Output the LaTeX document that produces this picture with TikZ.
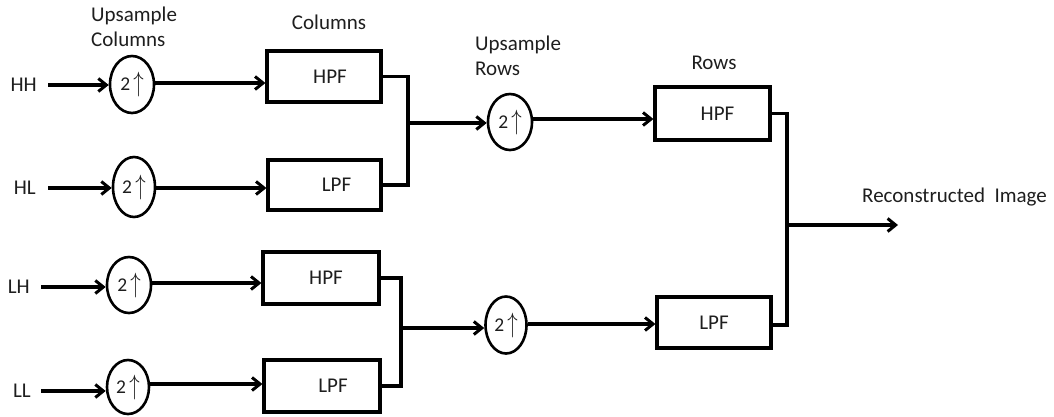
\documentclass[tikz,border=0pt]{standalone}
\usepackage{fontspec}
\setmainfont{Carlito}
\usetikzlibrary{arrows.meta,shapes.geometric}
\definecolor{ink}{RGB}{30,30,30}
\newcommand{\upby}{2\,\raisebox{-1pt}{\scalebox{1}[1.35]{$\uparrow$}}}
\tikzset{
  wire/.style={line width=3.2pt},
  arr/.style={wire,-{Straight Barb[length=8pt,width=13pt,line width=3pt]}},
  ups/.style={draw,ellipse,line width=2.6pt,inner sep=0pt,font=\fontsize{19.5}{20}\selectfont,text=ink},
  filt/.style={draw,rectangle,line width=3.2pt,inner sep=0pt,font=\fontsize{21}{24}\selectfont,text=ink},
  lbl/.style={inner sep=0pt,font=\fontsize{21}{25}\selectfont,text=ink,align=left},
}
\begin{document}
\begin{tikzpicture}[x=1pt,y=-1pt]
\useasboundingbox (0,0) rectangle (1054,416);

% headings
\node[lbl,anchor=west] (hupc) at (91,27) {Upsample\\Columns};
\node[lbl] (hcol) at (329,22) {Columns};
\node[lbl,anchor=west] (hupr) at (475,56) {Upsample\\Rows};
\node[lbl] (hrow) at (714,63) {Rows};

% subband inputs
\node[lbl,anchor=east] (hh) at (37,85) {HH};
\node[lbl,anchor=east] (hl) at (36,188) {HL};
\node[lbl,anchor=east] (lh) at (30,287) {LH};
\node[lbl,anchor=east] (ll) at (31,391) {LL};

% column upsamplers
\node[ups,minimum width=44pt,minimum height=57pt] (u1) at (132,84.5) {\upby};
\node[ups,minimum width=42pt,minimum height=60pt] (u2) at (134,187) {\upby};
\node[ups,minimum width=44pt,minimum height=56pt] (u5) at (129,285) {\upby};
\node[ups,minimum width=42pt,minimum height=54pt] (u6) at (128,387) {\upby};

% column filters
\node[filt,minimum width=114pt,minimum height=51pt] (c1) at (324,76.5) {\hspace*{12pt}HPF};
\node[filt,minimum width=113pt,minimum height=50pt] (c2) at (324.5,185) {\hspace*{24pt}LPF};
\node[filt,minimum width=116pt,minimum height=52pt] (c3) at (321,278) {\hspace*{10pt}HPF};
\node[filt,minimum width=116pt,minimum height=52pt] (c4) at (322,386) {\hspace*{22pt}LPF};

% row upsamplers
\node[ups,minimum width=44pt,minimum height=56pt] (u3) at (510,122) {\upby};
\node[ups,minimum width=41pt,minimum height=57pt] (u4) at (506,325) {\upby};

% row filters
\node[filt,minimum width=115pt,minimum height=53pt] (r1) at (712.5,113.5) {\hspace*{10pt}HPF};
\node[filt,minimum width=114pt,minimum height=51pt] (r2) at (714,322.5) {LPF};

\node[lbl,anchor=west] (out) at (862,197) {Reconstructed\ \ Image};

% junction points
\coordinate (j1) at (408,123);
\coordinate (j2) at (401,328);
\coordinate (j3) at (787,225);
\coordinate (o) at (898,225);

% inputs into column upsamplers
\draw[arr] ([xshift=11pt]hh.east) -- (hh.east -| u1.west);
\draw[arr] ([xshift=12pt]hl.east) -- (hl.east -| u2.west);
\draw[arr] ([xshift=11pt]lh.east) -- (lh.east -| u5.west);
\draw[arr] ([xshift=10pt]ll.east) -- (ll.east -| u6.west);

% upsamplers into column filters
\draw[arr] ([yshift=1.5pt]u1.east) -- ([yshift=1.5pt]u1.east -| c1.west);
\draw[arr] ([yshift=-1pt]u2.east) -- ([yshift=-1pt]u2.east -| c2.west);
\draw[arr] ([yshift=2pt]u5.east) -- ([yshift=2pt]u5.east -| c3.west);
\draw[arr] ([yshift=3pt]u6.east) -- ([yshift=3pt]u6.east -| c4.west);

% column filter pairs merged
\draw[wire] (c1.east) -| (j1) |- (c2.east);
\draw[wire] (c3.east) -| (j2) |- (c4.east);
\draw[arr] (j1) -- (j1 -| u3.west);
\draw[arr] (j2) -- (j2 -| u4.west);

% row upsamplers into row filters
\draw[arr] ([yshift=3pt]u3.east) -- ([yshift=3pt]u3.east -| r1.west);
\draw[arr] ([yshift=1pt]u4.east) -- ([yshift=1pt]u4.east -| r2.west);

% row filters merged into the output
\draw[wire] (r1.east) -| (j3) |- ([yshift=-2.5pt]r2.east);
\draw[arr] (j3) -- (o);
\end{tikzpicture}
\end{document}
